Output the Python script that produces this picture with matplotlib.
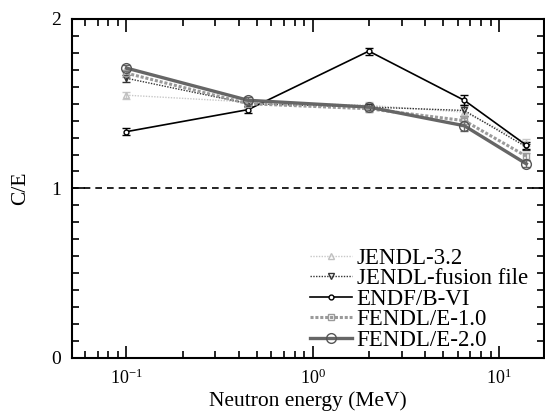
import matplotlib
matplotlib.use("Agg")
import matplotlib.pyplot as plt
from matplotlib.lines import Line2D
from matplotlib.ticker import LogLocator, MultipleLocator, FixedLocator, NullFormatter

plt.rcParams['font.family'] = ['Liberation Serif', 'DejaVu Serif']
plt.rcParams['mathtext.fontset'] = 'custom'
plt.rcParams['mathtext.rm'] = 'Liberation Serif'
plt.rcParams['mathtext.it'] = 'Liberation Serif:italic'

energy = [0.1, 0.45, 2.0, 6.5, 14.0]
jendl32 = [1.55, 1.51, 1.49, 1.45, 1.27]
jendl_fusion = [1.65, 1.50, 1.48, 1.46, 1.245]
endfb6 = [1.335, 1.465, 1.81, 1.52, 1.255]
fendl1 = [1.68, 1.50, 1.47, 1.40, 1.19]
fendl2 = [1.71, 1.52, 1.48, 1.37, 1.145]
err = [0.02, 0.02, 0.02, 0.03, 0.02]
labels = ['JENDL-3.2', 'JENDL-fusion file', 'ENDF/B-VI', 'FENDL/E-1.0', 'FENDL/E-2.0']

styles = [
    dict(color='#c8c8c8', lw=1.0, ls=(0, (1, 1)), marker='^', ms=5, mfc='none', mec='#c0c0c0'),
    dict(color='#333333', lw=1.0, ls=(0, (1, 1)), marker='v', ms=4, mfc='none', mec='#333333'),
    dict(color='black', lw=1.2, ls='-', marker='o', ms=3.5, mfc='white', mec='black'),
    dict(color='#9a9a9a', lw=2.2, ls=(0, (1, 0.6)), marker='s', ms=4, mfc='none', mec='#9a9a9a'),
    dict(color='#666666', lw=2.4, ls='-', marker='o', ms=7, mfc='none', mec='#555555'),
]
series = [jendl32, jendl_fusion, endfb6, fendl1, fendl2]

fig = plt.figure(figsize=(5.45, 4.11), dpi=100)
ax = fig.add_axes([0.132, 0.129, 0.866, 0.825])

handles = []
for vals, lab, st in zip(series, labels, styles):
    ax.errorbar(energy, vals, yerr=err, capsize=3, ecolor=st['color'], elinewidth=1.0, **st)
    handles.append(Line2D([], [], label=lab, **st))

ax.axhline(1.0, color='black', lw=1.2, ls=(0, (4, 3)))

ax.set_xscale('log')
ax.set_xlim(0.051, 17.4)
ax.set_ylim(0, 2)
ax.xaxis.set_major_locator(FixedLocator([0.1, 1, 10]))
ax.set_xticklabels([r'10$^{\mathregular{-1}}$', r'10$^{\mathregular{0}}$', r'10$^{\mathregular{1}}$'])
ax.xaxis.set_minor_locator(LogLocator(base=10, subs=range(2, 10)))
ax.xaxis.set_minor_formatter(NullFormatter())
ax.yaxis.set_major_locator(FixedLocator([0, 1, 2]))
ax.set_yticklabels(['0', '1', '2'])
ax.yaxis.set_minor_locator(MultipleLocator(0.1))

ax.tick_params(which='both', direction='in', top=True, right=True, width=1.2)
ax.tick_params(axis='x', labelsize=13, pad=8)
ax.tick_params(axis='y', labelsize=14, pad=8)
ax.tick_params(which='major', length=9)
ax.tick_params(which='minor', length=5)
for s in ax.spines.values():
    s.set_linewidth(1.5)

ax.set_xlabel('Neutron energy (MeV)', fontsize=15.5, va='center')
ax.xaxis.set_label_coords(0.5, -0.128)
ax.set_ylabel('C/E', fontsize=15.5, va='center')
ax.yaxis.set_label_coords(-0.108, 0.5)

ax.legend(handles=handles, loc='lower right', bbox_to_anchor=(0.995, -0.02), frameon=False,
          fontsize=16.5, handlelength=1.8, handletextpad=0.22, labelspacing=-0.02,
          borderaxespad=0.2)

fig.savefig('out.png', dpi=100)
